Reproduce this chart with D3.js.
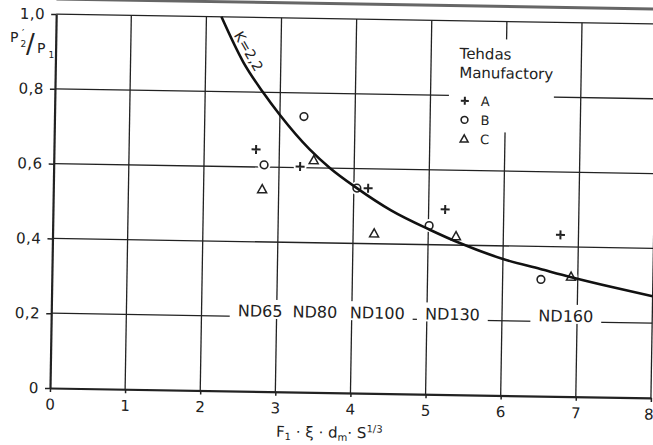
<!DOCTYPE html>
<html lang="fi">
<head>
<meta charset="UTF-8">
<title>P2'/P1 vs F1·ξ·dm·S^1/3</title>
<script src="https://d3js.org/d3.v7.min.js"></script>
<style>
    body {
        margin: 0;
        background: #fff;
    }

    svg {
        display: block;
        font-family: "DejaVu Sans", sans-serif;
    }

    .lbl {
        fill: #222;
    }
</style>
</head>
<body>
<div id="chart"></div>
<script>
    // axis ticks
    const xTicks = [0, 1, 2, 3, 4, 5, 6, 7, 8];
    const yTicks = [0, 0.2, 0.4, 0.6, 0.8, 1.0];
    const yTickLabels = ["0", "0,2", "0,4", "0,6", "0,8", "1,0"];

    // K = 2,2 curve
    const curveX = [2.2, 2.5, 2.77, 3.0, 3.4, 3.68, 4.04, 4.5, 5.02, 5.43, 6.0, 6.5, 6.9, 7.5, 8.0];
    const curveY = [1.0, 0.88, 0.80, 0.74, 0.65, 0.60, 0.548, 0.49, 0.44, 0.405, 0.365, 0.34, 0.32, 0.293, 0.272];

    // measured points per manufactory
    const seriesNames = ["A", "B", "C"];
    const aX = [2.69, 3.28, 4.19, 5.22, 6.76];
    const aY = [0.647, 0.603, 0.548, 0.495, 0.432];
    const bX = [2.80, 3.32, 4.04, 5.01, 6.51];
    const bY = [0.606, 0.737, 0.548, 0.451, 0.312];
    const cX = [2.78, 3.46, 4.28, 5.37, 6.91];
    const cY = [0.541, 0.621, 0.428, 0.424, 0.321];

    // pipe size labels along the 0,2 line
    const ndNames = ["ND65", "ND80", "ND100", "ND130", "ND160"];
    const ndX = [2.78, 3.51, 4.34, 5.34, 6.85];
    const ndY = 0.2;

    const legendTitle = ["Tehdas", "Manufactory"];
    const curveLabel = "K=2,2";

    // layout
    const W = 653, H = 445;
    const margin = { left: 50, top: 14 };
    const width = 601, height = 374;
    const tilt = 0.95; // the scan is slightly turned
    const ink = "#222";

    const svg = d3.select("#chart").append("svg")
        .attr("width", W)
        .attr("height", H);

    const g = svg.append("g")
        .attr("transform", `rotate(${tilt}, ${margin.left}, ${margin.top + height}) translate(${margin.left}, ${margin.top})`);

    const x = d3.scaleLinear().domain([0, 8]).range([0, width]);
    const y = d3.scaleLinear().domain([0, 1]).range([height, 0]);

    // edge of the page above the chart
    g.append("line")
        .attr("x1", 0).attr("x2", width + 20)
        .attr("y1", -15).attr("y2", -15)
        .attr("stroke", "#666").attr("stroke-width", 3);

    // grid
    g.append("g").selectAll("line")
        .data(xTicks.slice(1))
        .join("line")
        .attr("x1", d => x(d)).attr("x2", d => x(d))
        .attr("y1", y(0)).attr("y2", y(1))
        .attr("stroke", ink).attr("stroke-width", 1.3);

    g.append("g").selectAll("line")
        .data(yTicks.slice(1))
        .join("line")
        .attr("x1", x(0)).attr("x2", x(8))
        .attr("y1", d => y(d)).attr("y2", d => y(d))
        .attr("stroke", ink).attr("stroke-width", 1.3);

    // axes
    const xAxis = d3.axisBottom(x)
        .tickValues(xTicks)
        .tickFormat(d3.format("d"))
        .tickSize(4).tickSizeOuter(0).tickPadding(7);

    const yAxis = d3.axisLeft(y)
        .tickValues(yTicks)
        .tickFormat((d, i) => yTickLabels[i])
        .tickSize(5).tickSizeOuter(0).tickPadding(6);

    const gx = g.append("g").attr("transform", `translate(0, ${height})`).call(xAxis);
    const gy = g.append("g").call(yAxis);

    [gx, gy].forEach(a => {
        a.attr("font-family", null).attr("font-size", 15);
        a.select(".domain").attr("stroke", ink).attr("stroke-width", 2.2);
        a.selectAll(".tick line").attr("stroke", ink).attr("stroke-width", 1.5);
        a.selectAll(".tick text").attr("fill", ink).style("letter-spacing", "0.5px");
    });

    // last x label sits at the page edge: keep it inside
    gx.selectAll(".tick text")
        .filter(d => d === 8)
        .attr("text-anchor", "end")
        .attr("dx", 3);

    // x axis title
    const xt = g.append("text")
        .attr("class", "lbl")
        .attr("x", 280).attr("y", height + 45)
        .attr("text-anchor", "middle")
        .attr("font-size", 15);
    xt.append("tspan").text("F");
    xt.append("tspan").attr("font-size", 10).attr("dy", 3).text("1");
    xt.append("tspan").attr("dy", -3).text(" · ξ · d");
    xt.append("tspan").attr("font-size", 10).attr("dy", 3).text("m");
    xt.append("tspan").attr("dy", -3).text("· S");
    xt.append("tspan").attr("font-size", 10).attr("dy", -6).text("1/3");

    // legend box blanks the grid behind it
    g.append("rect")
        .attr("x", 394).attr("y", 18)
        .attr("width", 105).attr("height", 93)
        .attr("fill", "#fff");

    legendTitle.forEach((t, i) => {
        g.append("text")
            .attr("class", "lbl")
            .attr("x", 404).attr("y", 38 + i * 19)
            .attr("font-size", 15)
            .text(t);
    });

    function marker(sel, shape, s) {
        if (shape === "A") {
            sel.append("path")
                .attr("d", `M${-s},0H${s}M0,${-s}V${s}`)
                .attr("stroke", ink).attr("stroke-width", 2).attr("fill", "none");
        } else if (shape === "B") {
            sel.append("circle")
                .attr("r", s * 0.85)
                .attr("stroke", ink).attr("stroke-width", 1.6).attr("fill", "#fff");
        } else {
            sel.append("path")
                .attr("d", `M0,${-s}L${s},${s * 0.8}L${-s},${s * 0.8}Z`)
                .attr("stroke", ink).attr("stroke-width", 1.5).attr("fill", "#fff");
        }
    }

    seriesNames.forEach((name, i) => {
        const ly = 80 + i * 19;
        marker(g.append("g").attr("transform", `translate(410, ${ly})`), name, 4);
        g.append("text")
            .attr("class", "lbl")
            .attr("x", 426).attr("y", ly + 5)
            .attr("font-size", 13)
            .text(name);
    });

    // ND labels, with the grid cut out round them
    const ndG = g.append("g");
    ndNames.forEach((name, i) => {
        const t = ndG.append("text")
            .attr("class", "lbl")
            .attr("x", x(ndX[i])).attr("y", y(ndY))
            .attr("text-anchor", "middle")
            .attr("font-size", 16)
            .text(name);
        const bb = t.node().getBBox();
        ndG.insert("rect", "text")
            .attr("x", bb.x - 8).attr("y", y(ndY) - 17)
            .attr("width", bb.width + 16).attr("height", 19)
            .attr("fill", "#fff");
    });

    // measured points
    const series = [
        { name: "A", xs: aX, ys: aY },
        { name: "B", xs: bX, ys: bY },
        { name: "C", xs: cX, ys: cY }
    ];

    const pts = g.append("g");
    series.forEach(s => {
        s.xs.forEach((v, i) => {
            pts.append("circle")
                .attr("cx", x(v)).attr("cy", y(s.ys[i]))
                .attr("r", 6.5).attr("fill", "#fff");
        });
    });
    series.forEach(s => {
        s.xs.forEach((v, i) => {
            marker(pts.append("g").attr("transform", `translate(${x(v)}, ${y(s.ys[i])})`), s.name, 4.5);
        });
    });

    // curve
    const line = d3.line()
        .x(d => x(d[0]))
        .y(d => y(d[1]))
        .curve(d3.curveMonotoneX);

    g.append("path")
        .datum(d3.zip(curveX, curveY))
        .attr("fill", "none")
        .attr("stroke", "#111")
        .attr("stroke-width", 2.6)
        .attr("d", line);

    g.append("text")
        .attr("class", "lbl")
        .attr("transform", "translate(193, 34) rotate(59)")
        .attr("text-anchor", "middle")
        .attr("dy", "0.35em")
        .attr("font-size", 14)
        .text(curveLabel);

    // y axis title P'2 / P1 (top left corner)
    const yt = svg.append("g").attr("class", "lbl");
    yt.append("text").attr("x", 10).attr("y", 42).attr("font-size", 14).text("P");
    yt.append("text").attr("x", 22).attr("y", 37).attr("font-size", 10).text("′");
    yt.append("text").attr("x", 20.5).attr("y", 47).attr("font-size", 9).text("2");
    yt.append("text").attr("x", 26).attr("y", 53).attr("font-size", 26).text("/");
    yt.append("text").attr("x", 37).attr("y", 53).attr("font-size", 14).text("P");
    yt.append("text").attr("x", 48.5).attr("y", 58).attr("font-size", 9).text("1");
</script>
</body>
</html>
